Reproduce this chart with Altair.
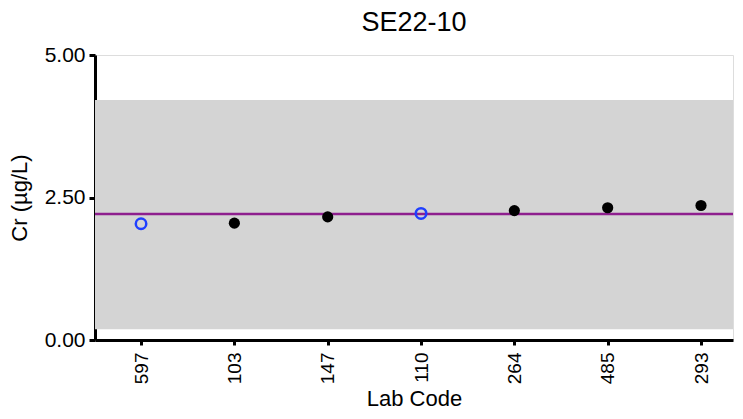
import altair as alt
import pandas as pd

# ---- data ----
lab_codes = ["597", "103", "147", "110", "264", "485", "293"]
cr_values = [2.04, 2.05, 2.16, 2.22, 2.27, 2.32, 2.36]
marker_kind = ["open", "filled", "filled", "open", "filled", "filled", "filled"]

assigned_value = [2.21]
band_lower = [0.19]
band_upper = [4.21]

y_ticks = [0.0, 2.5, 5.0]

FONT = "Liberation Sans"
W, H = 638, 285

points = pd.DataFrame({"lab": lab_codes, "value": cr_values, "kind": marker_kind})
ref = pd.DataFrame({"assigned": assigned_value, "lower": band_lower, "upper": band_upper})

x_enc = alt.X(
    "lab:N",
    sort=lab_codes,
    title="Lab Code",
    scale=alt.Scale(type="point", padding=0.418, align=0.59),
    axis=alt.Axis(
        labelAngle=270,
        labelFontSize=19,
        labelFont=FONT,
        labelColor="black",
        labelPadding=7,
        tickSize=5,
        tickWidth=3,
        tickColor="black",
        domainWidth=3,
        domainColor="black",
        titleFontSize=22,
        titleFont=FONT,
        titleFontWeight="normal",
        titleColor="black",
        titlePadding=5,
        grid=False,
    ),
)

y_scale = alt.Scale(domain=[0, 5], nice=False, zero=True)
y_axis = alt.Axis(
    values=y_ticks,
    format=".2f",
    labelFontSize=21,
    labelFont=FONT,
    labelColor="black",
    labelPadding=4,
    tickSize=6,
    tickWidth=3,
    tickColor="black",
    domainWidth=3,
    domainColor="black",
    titleFontSize=22,
    titleFont=FONT,
    titleFontWeight="normal",
    titleColor="black",
    titlePadding=13,
    grid=False,
)

band = alt.Chart(ref).mark_rect(color="#d4d4d4").encode(
    x=alt.value(0),
    x2=alt.value(W),
    y=alt.Y("lower:Q", scale=y_scale, axis=y_axis, title="Cr (µg/L)"),
    y2="upper:Q",
)

line = alt.Chart(ref).mark_rule(color="#8e1f8e", strokeWidth=2.5).encode(
    y=alt.Y("assigned:Q", scale=y_scale),
)

filled = alt.Chart(points).transform_filter(alt.datum.kind == "filled").mark_point(
    shape="circle", filled=True, color="black", size=125, opacity=1
).encode(x=x_enc, y=alt.Y("value:Q", scale=y_scale))

opened = alt.Chart(points).transform_filter(alt.datum.kind == "open").mark_point(
    shape="circle", filled=False, color="#1f3fff", size=110, strokeWidth=2.5, opacity=1
).encode(x=x_enc, y=alt.Y("value:Q", scale=y_scale))

chart = (
    alt.layer(band, line, filled, opened)
    .properties(
        width=W,
        height=H,
        title=alt.TitleParams(
            "SE22-10",
            fontSize=27,
            font=FONT,
            fontWeight="normal",
            color="black",
            anchor="middle",
            offset=7,
        ),
        padding={"left": 0, "top": 1, "right": 0, "bottom": 0},
    )
    .configure_view(stroke=None)
    .configure(background="white")
)

chart.save("out.html", embed_options={"renderer": "svg", "actions": False})
